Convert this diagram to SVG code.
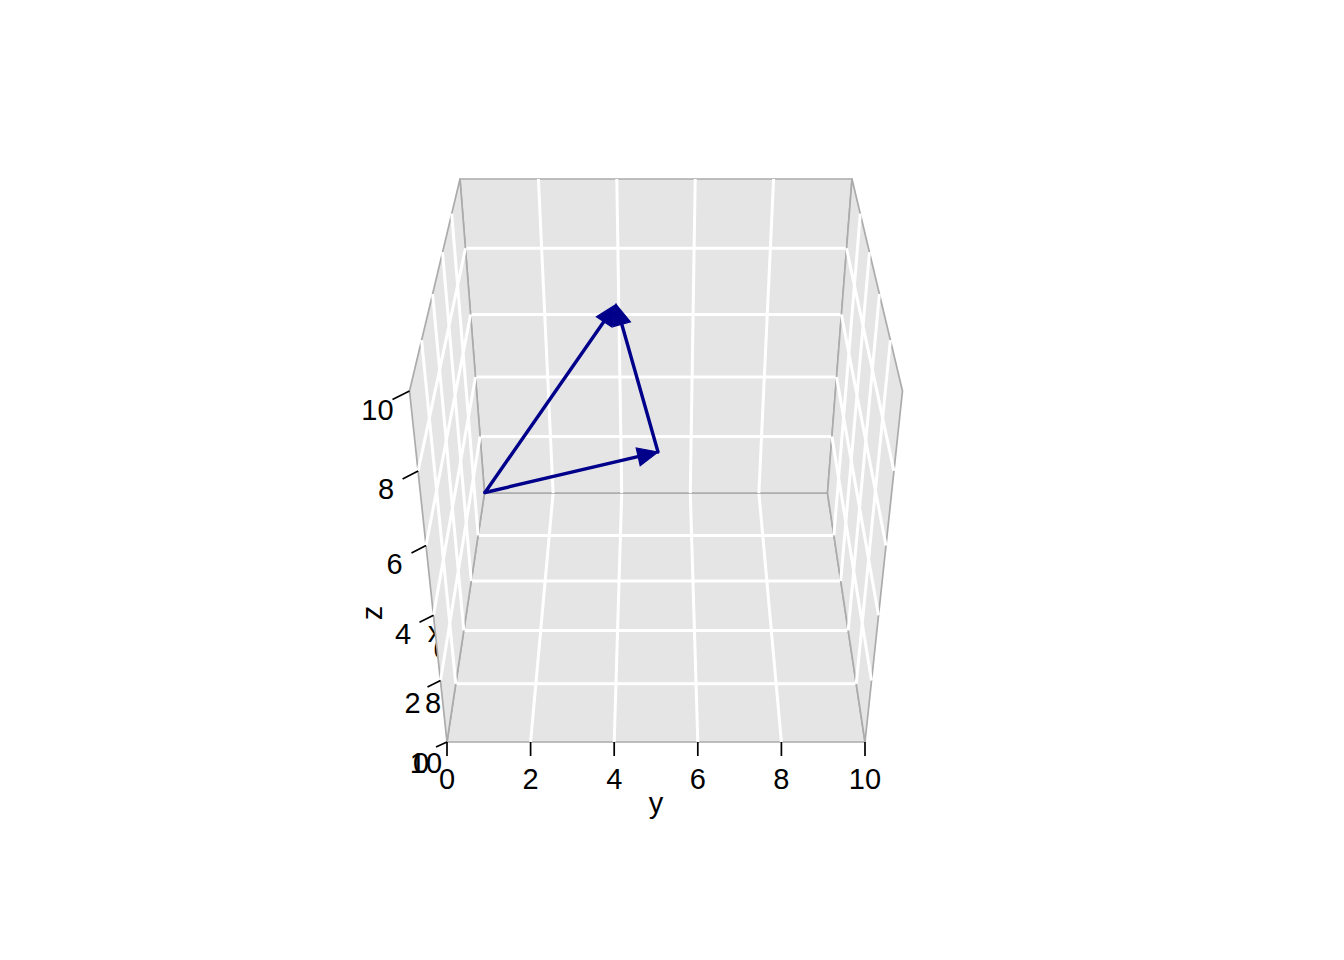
<svg xmlns="http://www.w3.org/2000/svg" width="1344" height="960" viewBox="0 0 1344 960">
<style>
.lbl{font-family:"Liberation Sans",Arial,sans-serif;font-size:29px;fill:#000;text-anchor:middle}
.panel{fill:#E5E5E5;stroke:#ABABAB;stroke-width:1.7;stroke-linejoin:round}
.grid{stroke:#FFFFFF;stroke-width:3;fill:none}
.tick{stroke:#000;stroke-width:1.7;fill:none}
.vec{stroke:#00008B;stroke-width:3.4;fill:none;stroke-linecap:round}
.head{fill:#00008B;stroke:#00008B;stroke-width:1.2;stroke-linejoin:miter}
</style>
<rect width="1344" height="960" fill="#FFFFFF"/>
<g id="hidden-x-labels">
<text class="lbl" x="441.3" y="659">6</text>
<text class="lbl" x="435" y="642">x</text>
</g>
<g id="floor">
<polygon class="panel" points="447,742 865,742 827.5,493 484.5,493"/>
<path class="grid" d="M455.8,683.8H856.2M463.8,630.4H848.2M471.3,581H840.7M478.1,535.4H833.9M530.6,742L553.1,493M614.2,742L621.7,493M697.8,742L690.3,493M781.4,742L758.9,493"/>
</g>
<g id="back-wall">
<polygon class="panel" points="484.5,493 827.5,493 852,179 460,179"/>
<path class="grid" d="M480.1,436.5H831.9M475.5,377.1H836.5M470.6,314.5H841.4M465.5,248.3H846.5M553.1,493L538.4,179M621.7,493L616.8,179M690.3,493L695.2,179M758.9,493L773.6,179"/>
</g>
<g id="left-wall">
<polygon class="panel" points="447,742 409.5,391 460,179 484.5,493"/>
<path class="grid" d="M455.8,683.8L421.6,340.1M463.8,630.4L432.6,294M471.3,581L442.5,252.1M478.1,535.4L451.7,213.7M440.5,680.6L480.1,436.5M433.5,615.2L475.5,377.1M426,545.5L470.6,314.5M418.1,470.9L465.5,248.3"/>
</g>
<g id="right-wall">
<polygon class="panel" points="865,742 902.5,391 852,179 827.5,493"/>
<path class="grid" d="M856.2,683.8L890.4,340.1M848.2,630.4L879.4,294M840.7,581L869.5,252.1M833.9,535.4L860.3,213.7M871.5,680.6L831.9,436.5M878.5,615.2L836.5,377.1M886,545.5L841.4,314.5M893.9,470.9L846.5,248.3"/>
</g>
<g id="connectors">
<path class="vec" d="M485,492.5L605,320"/>
<polygon class="head" points="616,304.5 611.9,327.1 596.4,316.7"/>
<path class="vec" d="M485,492.5L639,456.4"/>
<polygon class="head" points="658,452 640.2,465.6 636.2,447.9"/>
<path class="vec" d="M658,452L621,321.5"/>
<polygon class="head" points="616,304.5 630.4,321.8 613.0,326.6"/>
</g>
<g id="y-axis">
<path class="tick" d="M447,742V756M530.6,742V756M614.2,742V756M697.8,742V756M781.4,742V756M865,742V756"/>
<text class="lbl" x="447" y="789">0</text>
<text class="lbl" x="530.6" y="789">2</text>
<text class="lbl" x="614.2" y="789">4</text>
<text class="lbl" x="697.8" y="789">6</text>
<text class="lbl" x="781.4" y="789">8</text>
<text class="lbl" x="865" y="789">10</text>
<text class="lbl" x="656" y="813">y</text>
</g>
<g id="z-axis">
<path class="tick" d="M409.5,391l-17,8.5M418.1,470.9l-15.5,8M426,545.5l-14.5,7.5M433.5,615.2l-14,7M440.5,680.6l-13,6.5M447,742l-11,5"/>
<text class="lbl" x="377.5" y="420">10</text>
<text class="lbl" x="386" y="499">8</text>
<text class="lbl" x="394.5" y="574">6</text>
<text class="lbl" x="403" y="643.5">4</text>
<text class="lbl" x="412.5" y="712.5">2</text>
<text class="lbl" x="421" y="772.5">0</text>
<text class="lbl" transform="translate(381.5,613) rotate(-90)" x="0" y="0">z</text>
</g>
<g id="x-axis">
<text class="lbl" x="433" y="712.5">8</text>
<text class="lbl" x="426" y="772.5">10</text>
</g>
</svg>
